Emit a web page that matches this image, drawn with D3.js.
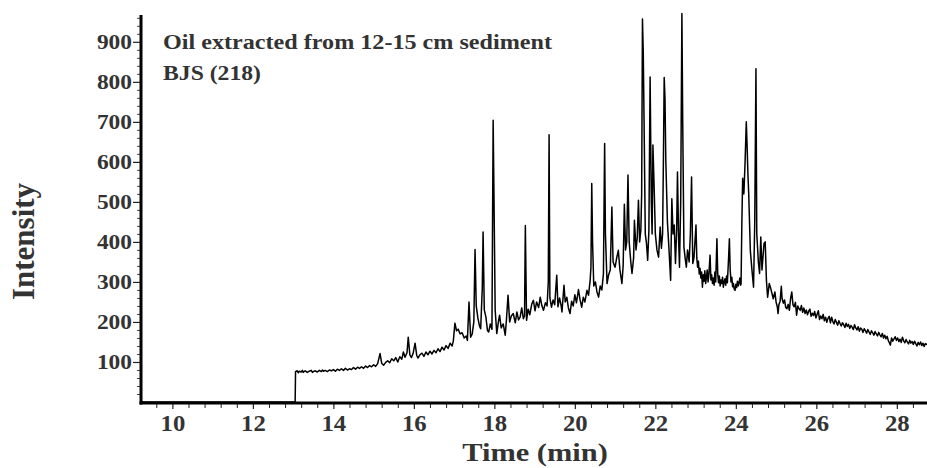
<!DOCTYPE html>
<html>
<head>
<meta charset="utf-8">
<script src="https://cdn.jsdelivr.net/npm/d3@7"></script>
<style>
  html, body { margin: 0; padding: 0; background: #fff; }
  svg { display: block; }
  text { font-family: "Liberation Serif", "Times New Roman", serif; font-weight: bold; fill: #333; }
</style>
</head>
<body>
<svg id="chart" width="927" height="468"></svg>
<script>
// Chromatogram: retention time (min) vs detector intensity
const sampleTitle = "Oil extracted from 12-15 cm sediment";
const sampleId = "BJS (218)";
const xLabel = "Time (min)";
const yLabel = "Intensity";
const xTickValues = [10, 12, 14, 16, 18, 20, 22, 24, 26, 28];
const yTickValues = [100, 200, 300, 400, 500, 600, 700, 800, 900];
const xDomain = [9.22, 28.75];
const yDomain = [0, 967];

// Before injection: recorder edge and flat zero line
const leadIn = [[9.22, 354], [9.225, 0], [13.05, 0]];

// Early baseline 13–17 min
const earlyTrace = [
  [13.06, 76], [13.1, 78], [13.13, 73], [13.15, 77], [13.2, 75], [13.23, 79], [13.25, 74], [13.3, 78], [13.35, 74], [13.4, 77],
  [13.45, 79], [13.48, 74], [13.5, 76], [13.55, 78], [13.6, 75], [13.65, 79], [13.7, 76], [13.73, 80], [13.75, 77], [13.8, 79],
  [13.85, 76], [13.9, 80], [13.95, 78], [14.0, 81], [14.05, 77], [14.1, 82], [14.15, 79], [14.2, 83],
  [14.25, 79], [14.3, 84], [14.35, 80], [14.4, 83], [14.45, 81], [14.5, 86], [14.55, 82], [14.6, 87],
  [14.65, 84], [14.7, 88], [14.75, 84], [14.8, 90], [14.85, 86], [14.9, 91], [14.95, 88], [15.0, 93],
  [15.05, 89], [15.1, 96], [15.16, 121], [15.2, 97], [15.25, 92], [15.3, 99], [15.35, 103], [15.4, 98],
  [15.45, 108], [15.5, 103], [15.55, 111], [15.6, 100], [15.65, 113], [15.7, 107], [15.74, 125], [15.78, 112],
  [15.83, 123], [15.86, 162], [15.9, 118], [15.94, 111], [15.98, 121], [16.03, 147], [16.07, 117], [16.1, 110],
  [16.15, 118], [16.2, 122], [16.25, 114], [16.3, 125], [16.35, 118], [16.4, 127], [16.45, 120], [16.5, 129],
  [16.55, 123], [16.6, 133], [16.65, 126], [16.7, 137], [16.75, 130], [16.8, 141], [16.85, 134], [16.9, 147],
  [16.95, 140], [16.98, 152]
];

// Resolved peaks riding on the unresolved hump, 17–25 min
const humpTrace = [
  [17.02, 197], [17.06, 178], [17.1, 182], [17.15, 170], [17.2, 173], [17.25, 160], [17.3, 165], [17.33, 154],
  [17.37, 250], [17.41, 162], [17.45, 170], [17.49, 200], [17.52, 381], [17.55, 240], [17.59, 210], [17.63, 190],
  [17.66, 183], [17.7, 284], [17.72, 425], [17.75, 230], [17.79, 212], [17.83, 178], [17.86, 175], [17.9, 195],
  [17.94, 182], [17.97, 704], [17.99, 520], [18.02, 230], [18.06, 171], [18.1, 200], [18.13, 217], [18.17, 185],
  [18.22, 195], [18.27, 167], [18.3, 205], [18.34, 267], [18.38, 200], [18.42, 215], [18.47, 221], [18.52, 198],
  [18.56, 225], [18.6, 205], [18.64, 212], [18.68, 235], [18.72, 208], [18.75, 215], [18.77, 441], [18.8, 204],
  [18.84, 232], [18.88, 218], [18.93, 245], [18.97, 254], [19.01, 228], [19.05, 250], [19.1, 236], [19.14, 262],
  [19.18, 241], [19.22, 229], [19.27, 248], [19.31, 240], [19.34, 300], [19.36, 668], [19.38, 260], [19.42, 237],
  [19.46, 255], [19.5, 243], [19.55, 317], [19.58, 238], [19.62, 260], [19.66, 240], [19.68, 225], [19.73, 292],
  [19.76, 250], [19.8, 262], [19.84, 235], [19.88, 221], [19.92, 252], [19.96, 240], [20.0, 268], [20.04, 248],
  [20.09, 281], [20.13, 255], [20.17, 237], [20.21, 262], [20.25, 250], [20.3, 279], [20.34, 267], [20.38, 304],
  [20.4, 337], [20.42, 546], [20.44, 400], [20.47, 290], [20.51, 300], [20.55, 275], [20.59, 262], [20.63, 290],
  [20.67, 280], [20.71, 320], [20.74, 646], [20.76, 420], [20.8, 296], [20.84, 318], [20.88, 330], [20.92, 487],
  [20.95, 350], [21.0, 337], [21.04, 360], [21.08, 379], [21.12, 330], [21.17, 296], [21.2, 340], [21.23, 494],
  [21.26, 380], [21.29, 400], [21.32, 567], [21.35, 400], [21.39, 350], [21.42, 321], [21.46, 360], [21.48, 454],
  [21.52, 380], [21.55, 410], [21.58, 504], [21.61, 400], [21.64, 430], [21.66, 520], [21.68, 957], [21.7, 874],
  [21.72, 700], [21.75, 420], [21.78, 396], [21.81, 354], [21.84, 430], [21.87, 812], [21.9, 500], [21.92, 420],
  [21.94, 642], [21.97, 537], [22.0, 420], [22.04, 380], [22.08, 362], [22.12, 437], [22.15, 384], [22.18, 420],
  [22.2, 600], [22.22, 811], [22.24, 759], [22.26, 604], [22.3, 450], [22.34, 380], [22.38, 304], [22.41, 508],
  [22.44, 420], [22.47, 442], [22.5, 346], [22.53, 430], [22.55, 575], [22.58, 400], [22.6, 337], [22.63, 500],
  [22.66, 971], [22.68, 700], [22.71, 387], [22.74, 360], [22.77, 337], [22.8, 380], [22.84, 350], [22.87, 420],
  [22.9, 562], [22.93, 346], [22.96, 360], [23.01, 442], [23.03, 360], [23.05, 337], [23.07, 352], [23.09, 320],
  [23.11, 334], [23.13, 310], [23.15, 325], [23.17, 287], [23.19, 318], [23.21, 302], [23.23, 328], [23.25, 296],
  [23.27, 312], [23.29, 330], [23.31, 300], [23.33, 318], [23.36, 367], [23.38, 305], [23.4, 318], [23.42, 296],
  [23.44, 310], [23.46, 292], [23.48, 325], [23.5, 300], [23.53, 408], [23.55, 320], [23.57, 298], [23.59, 315],
  [23.61, 290], [23.63, 305], [23.65, 296], [23.67, 312], [23.69, 287], [23.71, 300], [23.73, 308], [23.75, 292],
  [23.77, 315], [23.79, 298], [23.82, 360], [23.84, 408], [23.86, 330], [23.88, 300], [23.9, 312], [23.92, 288],
  [23.94, 296], [23.96, 282], [23.98, 279], [24.0, 294], [24.02, 286], [24.04, 302], [24.06, 290], [24.08, 298],
  [24.1, 310], [24.12, 292], [24.13, 296], [24.15, 450], [24.17, 559], [24.2, 520], [24.23, 600], [24.26, 700],
  [24.28, 640], [24.3, 571], [24.32, 521], [24.36, 379], [24.4, 330], [24.44, 287], [24.47, 450], [24.48, 575],
  [24.5, 833], [24.52, 421], [24.56, 350], [24.59, 321], [24.62, 412], [24.65, 330], [24.7, 396], [24.73, 400],
  [24.76, 304], [24.79, 262]
];

// Late tail 24.8–28.75 min
const lateTrace = [
  [24.83, 296], [24.86, 287], [24.9, 270], [24.93, 258], [24.97, 275], [25.0, 250], [25.03, 238], [25.05, 221],
  [25.07, 243], [25.1, 252], [25.13, 289], [25.15, 258], [25.18, 247], [25.21, 255], [25.24, 236], [25.27, 233],
  [25.3, 244], [25.33, 229], [25.36, 258], [25.39, 275], [25.42, 243], [25.45, 238], [25.48, 249], [25.51, 217],
  [25.54, 240], [25.57, 233], [25.6, 229], [25.63, 241], [25.66, 224], [25.69, 235], [25.72, 221], [25.75, 230],
  [25.78, 218], [25.81, 227], [25.84, 232], [25.87, 214], [25.9, 222], [25.93, 216], [25.96, 226], [25.99, 210],
  [26.02, 219], [26.05, 228], [26.08, 206], [26.11, 215], [26.14, 208], [26.17, 219], [26.2, 203], [26.23, 212],
  [26.26, 199], [26.29, 209], [26.32, 214], [26.35, 198], [26.38, 212], [26.41, 201], [26.44, 195], [26.47, 206],
  [26.5, 199], [26.53, 192], [26.56, 203], [26.59, 196], [26.62, 190], [26.65, 198], [26.68, 193], [26.71, 186],
  [26.74, 197], [26.77, 189], [26.8, 194], [26.83, 184], [26.86, 191], [26.89, 187], [26.92, 181], [26.95, 193],
  [26.98, 185], [27.01, 180], [27.04, 188], [27.07, 177], [27.1, 185], [27.13, 182], [27.16, 174], [27.19, 183],
  [27.22, 178], [27.25, 172], [27.28, 181], [27.31, 175], [27.34, 169], [27.37, 178], [27.4, 173], [27.43, 167],
  [27.46, 176], [27.49, 170], [27.52, 165], [27.55, 174], [27.58, 168], [27.61, 163], [27.64, 171], [27.67, 160],
  [27.7, 167], [27.73, 158], [27.76, 164], [27.79, 153], [27.82, 147], [27.84, 142], [27.87, 160], [27.9, 152],
  [27.93, 158], [27.96, 163], [27.99, 154], [28.02, 160], [28.05, 151], [28.08, 157], [28.11, 149], [28.14, 162],
  [28.17, 153], [28.2, 148], [28.23, 156], [28.26, 150], [28.29, 145], [28.32, 154], [28.35, 147], [28.38, 151],
  [28.41, 144], [28.44, 152], [28.47, 146], [28.5, 140], [28.53, 149], [28.56, 143], [28.59, 150], [28.62, 141],
  [28.65, 147], [28.68, 139], [28.71, 146], [28.75, 143]
];

const signal = leadIn.concat(earlyTrace, humpTrace, lateTrace);

const svg = d3.select("#chart");
const plot = { left: 141, right: 927, top: 15, bottom: 402 };

const x = d3.scaleLinear().domain(xDomain).range([plot.left, plot.right]);
const y = d3.scaleLinear().domain(yDomain).range([plot.bottom, plot.top]);

// Widen glyphs horizontally (the typeface is set wide in this figure)
function widen(sel, k) {
  sel.each(function () {
    const w = this.getComputedTextLength();
    d3.select(this).attr("textLength", w * k).attr("lengthAdjust", "spacingAndGlyphs");
  });
}

// Trace
svg.append("path")
  .datum(signal)
  .attr("fill", "none")
  .attr("stroke", "#000")
  .attr("stroke-width", 1.5)
  .attr("stroke-linejoin", "round")
  .attr("d", d3.line().x(d => x(d[0])).y(d => y(d[1])));

// X axis: major ticks every 2 min, minor every 0.4 min
const xMinor = d3.range(9.6, 28.75, 0.4).filter(v => Math.abs(v / 2 - Math.round(v / 2)) > 0.01);
const xAxisG = svg.append("g").attr("transform", `translate(0,${plot.bottom + 1})`);
xAxisG.append("g")
  .call(d3.axisBottom(x).tickValues(xMinor).tickSize(5).tickFormat(""))
  .call(g => g.select(".domain").remove())
  .call(g => g.selectAll("line").attr("stroke", "#222").attr("stroke-width", 1));
xAxisG.append("g")
  .call(d3.axisBottom(x).tickValues(xTickValues).tickSize(6).tickPadding(6).tickFormat(d3.format("d")))
  .call(g => g.select(".domain").remove())
  .call(g => g.selectAll("line").attr("stroke", "#222").attr("stroke-width", 1.2))
  .call(g => g.selectAll("text").attr("font-size", 22.5).attr("fill", "#333")
    .style("font-family", "'Liberation Serif', serif").style("font-weight", "bold"))
  .call(g => widen(g.selectAll("text"), 1.1));
xAxisG.append("line")
  .attr("x1", plot.left - 1.5).attr("x2", plot.right)
  .attr("y1", 0).attr("y2", 0)
  .attr("stroke", "#000").attr("stroke-width", 3);

// Y axis: labelled every 100, minor every 20
const yMinor = d3.range(20, 967, 20).filter(v => v % 100 !== 0);
const yAxisG = svg.append("g").attr("transform", `translate(${plot.left},0)`);
yAxisG.append("g")
  .call(d3.axisLeft(y).tickValues(yMinor).tickSize(4).tickFormat(""))
  .call(g => g.select(".domain").remove())
  .call(g => g.selectAll("line").attr("stroke", "#444").attr("stroke-width", 1));
yAxisG.append("g")
  .call(d3.axisLeft(y).tickValues(yTickValues).tickSize(8).tickPadding(1).tickFormat(d3.format("d")))
  .call(g => g.select(".domain").remove())
  .call(g => g.selectAll("line").attr("stroke", "#222").attr("stroke-width", 1.2))
  .call(g => g.selectAll("text").attr("font-size", 20).attr("fill", "#333")
    .style("font-family", "'Liberation Serif', serif").style("font-weight", "bold"))
  .call(g => widen(g.selectAll("text"), 1.17));
yAxisG.append("line")
  .attr("x1", 0).attr("x2", 0)
  .attr("y1", plot.top).attr("y2", plot.bottom + 2.5)
  .attr("stroke", "#000").attr("stroke-width", 3);

// Axis titles
svg.append("text")
  .attr("x", 535).attr("y", 461)
  .attr("text-anchor", "middle")
  .attr("font-size", 26)
  .text(xLabel)
  .call(widen, 1.17);

svg.append("text")
  .attr("transform", "translate(33.5,241.5) rotate(-90)")
  .attr("text-anchor", "middle")
  .attr("font-size", 31)
  .text(yLabel);

// Sample annotation
svg.append("text")
  .attr("x", 163).attr("y", 49)
  .attr("font-size", 21)
  .attr("fill", "#222")
  .text(sampleTitle)
  .attr("textLength", 389).attr("lengthAdjust", "spacingAndGlyphs");
svg.append("text")
  .attr("x", 163).attr("y", 80)
  .attr("font-size", 21)
  .attr("fill", "#222")
  .text(sampleId)
  .attr("textLength", 98).attr("lengthAdjust", "spacingAndGlyphs");
</script>
</body>
</html>
